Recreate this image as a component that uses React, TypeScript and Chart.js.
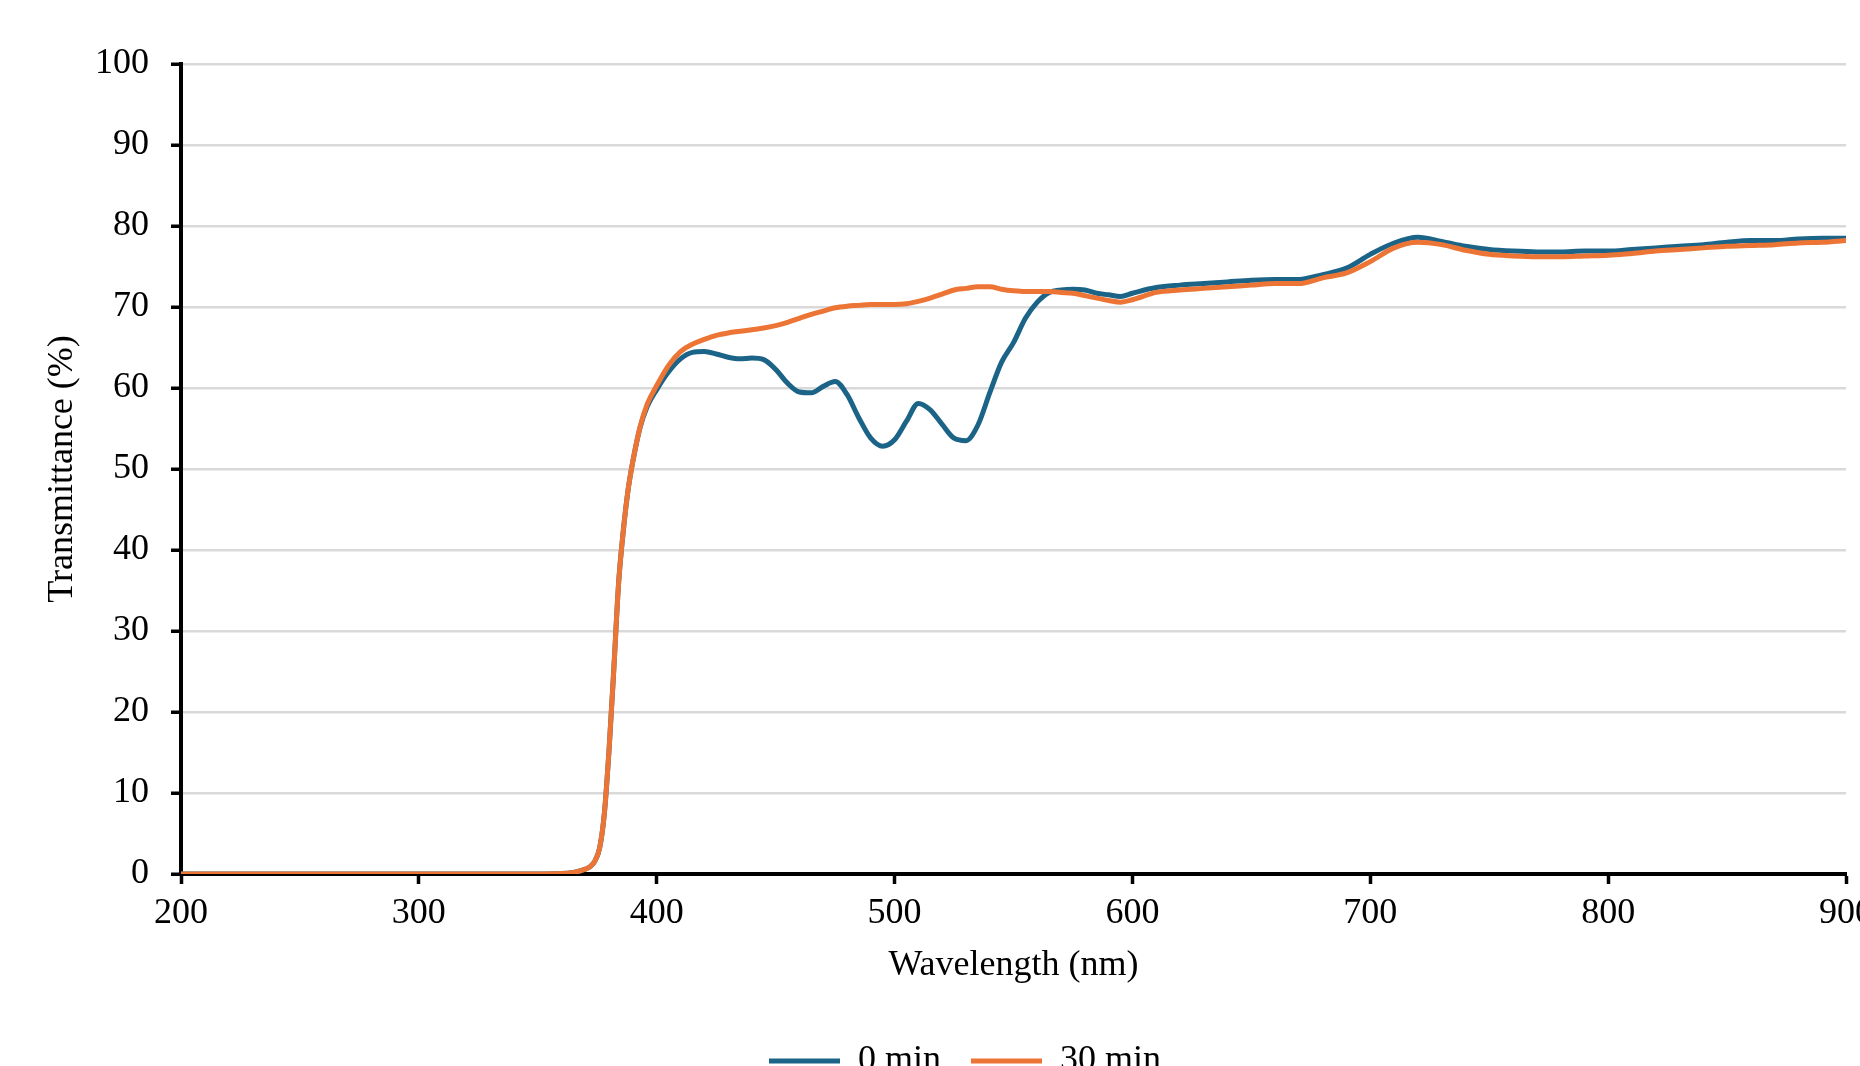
import React, { useEffect, useRef } from "react";
import { Chart, registerables } from "chart.js";

Chart.register(...registerables);

const wavelengths = [
  200, 250, 300, 350, 360, 365, 368, 370, 372, 374, 376, 378, 380, 382, 384, 386, 388, 390, 393, 396,
  400, 405, 410, 415, 420, 425, 430, 435, 440, 445, 450, 455, 460, 465, 470, 475, 480, 485, 490, 495,
  500, 505, 510, 515, 520, 525, 530, 535, 540, 545, 550, 555, 560, 565, 570, 575, 580, 585, 590, 595,
  600, 610, 620, 630, 640, 650, 660, 670, 680, 690, 700, 710, 720, 730, 740, 750, 760, 770, 780, 790,
  800, 810, 820, 830, 840, 850, 860, 870, 880, 890, 900,
];

const series0min = [
  0, 0, 0, 0, 0.05, 0.2, 0.4, 0.6, 0.9, 1.6, 3.2, 7.5, 15.5, 25.5, 36, 42.5, 47.5, 51, 55.1, 57.7,
  59.8, 62.0, 63.6, 64.4, 64.5, 64.2, 63.8, 63.6, 63.7, 63.5, 62.3, 60.6, 59.5, 59.4, 60.2, 60.8, 59.2, 56.3, 53.8, 52.8,
  53.6, 55.9, 58.1, 57.3, 55.5, 53.8, 53.5, 55.4, 59.4, 63.2, 65.6, 68.6, 70.6, 71.8, 72.1, 72.2, 72.1, 71.7, 71.5, 71.3,
  71.7, 72.4, 72.7, 72.9, 73.1, 73.3, 73.4, 73.4, 74.0, 74.8, 76.5, 77.9, 78.6, 78.1, 77.5, 77.1, 76.9, 76.8, 76.8, 76.9,
  76.9, 77.1, 77.3, 77.5, 77.7, 78.0, 78.2, 78.2, 78.4, 78.5, 78.5,
];

const series30min = [
  0, 0, 0, 0, 0.05, 0.2, 0.4, 0.6, 0.9, 1.6, 3.2, 7.5, 15.5, 25.5, 36, 42.5, 47.5, 51, 55.2, 58.0,
  60.3, 62.8, 64.5, 65.4, 66.0, 66.5, 66.8, 67.0, 67.2, 67.4, 67.7, 68.1, 68.6, 69.1, 69.5, 69.9, 70.1, 70.2, 70.3, 70.3,
  70.3, 70.4, 70.7, 71.1, 71.6, 72.1, 72.3, 72.5, 72.5, 72.2, 72.0, 71.9, 71.9, 71.9, 71.8, 71.7, 71.4, 71.1, 70.8, 70.6,
  70.9, 71.8, 72.1, 72.3, 72.5, 72.7, 72.9, 72.9, 73.6, 74.2, 75.6, 77.3, 78.0, 77.7, 77.0, 76.5, 76.3, 76.2, 76.2, 76.3,
  76.4, 76.6, 76.9, 77.1, 77.3, 77.5, 77.6, 77.7, 77.9, 78.0, 78.2,
];

const seriesLabels = ["0 min", "30 min"];
const seriesColors = ["#1B6487", "#EC7535"];
const xTitle = "Wavelength (nm)";
const yTitle = "Transmittance (%)";

const CANVAS_W = 1920;
const CANVAS_H = 1089;

const legendShift = {
  id: "legendShift",
  afterLayout(chart: any) {
    if (chart.legend) {
      chart.legend.left += 42;
      chart.legend.right += 42;
    }
  },
};

export default function App() {
  const ref = useRef<HTMLCanvasElement | null>(null);

  useEffect(() => {
    if (!ref.current) return;
    const font = { family: "'Liberation Serif', 'Times New Roman', serif", size: 36 };
    const toPts = (vals: number[]) => wavelengths.map((w, i) => ({ x: w, y: vals[i] }));
    const chart = new Chart(ref.current, {
      type: "line",
      data: {
        datasets: [
          {
            label: seriesLabels[0],
            data: toPts(series0min),
            borderColor: seriesColors[0],
            backgroundColor: seriesColors[0],
            borderWidth: 5,
            pointRadius: 0,
            cubicInterpolationMode: "monotone",
            borderCapStyle: "round",
            order: 1,
          },
          {
            label: seriesLabels[1],
            data: toPts(series30min),
            borderColor: seriesColors[1],
            backgroundColor: seriesColors[1],
            borderWidth: 5,
            pointRadius: 0,
            cubicInterpolationMode: "monotone",
            borderCapStyle: "round",
            order: 0,
          },
        ],
      },
      plugins: [legendShift],
      options: {
        responsive: false,
        animation: false,
        devicePixelRatio: 1,
        layout: { padding: { top: 64, right: 74, bottom: 0, left: 0 } },
        plugins: {
          title: { display: false },
          tooltip: { enabled: false },
          legend: {
            position: "bottom",
            labels: {
              font,
              color: "#000",
              usePointStyle: true,
              pointStyle: "line",
              pointStyleWidth: 71,
              padding: 30,
              sort: (a: any, b: any) => a.datasetIndex - b.datasetIndex,
            },
          },
        },
        scales: {
          x: {
            type: "linear",
            min: 200,
            max: 900,
            ticks: { stepSize: 100, font, color: "#000", padding: 8, maxRotation: 0 },
            grid: {
              drawOnChartArea: false,
              drawTicks: true,
              tickLength: 10,
              tickColor: "#000",
              tickWidth: 3.5,
            },
            border: { color: "#000", width: 4 },
            title: { display: true, text: xTitle, font, color: "#000", padding: { top: 0, bottom: 26 } },
            afterFit: (s: any) => {
              s.height = 139;
            },
          },
          y: {
            type: "linear",
            min: 0,
            max: 100,
            ticks: { stepSize: 10, font, color: "#000", padding: 22 },
            grid: {
              color: "#d9d9d9",
              lineWidth: 2.5,
              drawTicks: true,
              tickLength: 10,
              tickColor: "#000",
              tickWidth: 3.5,
            },
            border: { color: "#000", width: 4 },
            title: { display: true, text: yTitle, font, color: "#000", padding: { top: 41, bottom: 0 } },
            afterFit: (s: any) => {
              s.width = 181;
            },
          },
        },
      },
    } as any);
    return () => chart.destroy();
  }, []);

  return (
    <div
      style={{
        position: "fixed",
        left: 0,
        top: 0,
        width: 1860,
        height: 1066,
        overflow: "hidden",
        background: "#fff",
      }}
    >
      <canvas
        ref={ref}
        width={CANVAS_W}
        height={CANVAS_H}
        style={{ position: "absolute", left: 0, top: 0, width: CANVAS_W, height: CANVAS_H }}
      />
    </div>
  );
}
